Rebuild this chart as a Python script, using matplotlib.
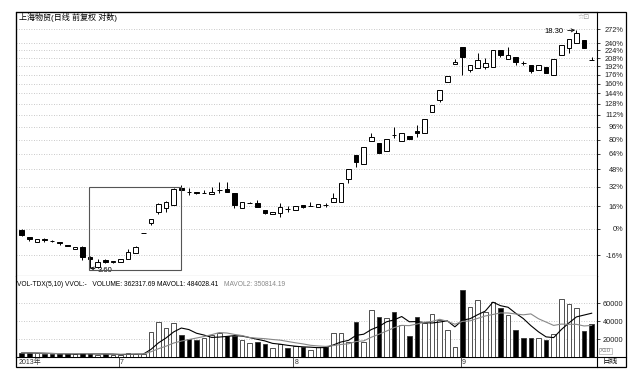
import matplotlib
matplotlib.use("Agg")
import matplotlib.pyplot as plt
import numpy as np
import pandas as pd
from matplotlib.patches import Rectangle
from matplotlib.lines import Line2D

plt.rcParams['font.family'] = ['Liberation Sans', 'Noto Sans CJK SC', 'DejaVu Sans']

# daily candles, 上海物贸, 2013-06 .. 2013-09 (front-adjusted prices)
opens = [4.62, 4.41, 4.27, 4.35, 4.30, 4.27, 4.19, 4.08, 4.13, 3.87,
         3.62, 3.79, 3.75, 3.75, 3.82, 3.97, 4.54, 4.84, 5.20, 5.34,
         5.45, 6.09, 5.95, 5.92, 5.89, 5.86, 6.01, 6.05, 5.90, 5.34,
         5.52, 5.52, 5.27, 5.14, 5.17, 5.31, 5.27, 5.46, 5.40, 5.38,
         5.45, 5.56, 5.56, 6.47, 7.57, 7.14, 8.30, 8.19, 7.77, 8.64,
         8.30, 8.58, 8.87, 8.75, 10.05, 10.87, 12.24, 13.78, 15.41, 13.25,
         13.42, 13.51, 13.51, 15.11, 14.24, 14.43, 13.87, 13.69, 13.25, 13.51,
         12.82, 14.62, 15.31, 15.82, 16.13, 14.14]
highs = [4.65, 4.42, 4.37, 4.39, 4.33, 4.27, 4.19, 4.13, 4.16, 3.90,
         3.82, 3.82, 3.77, 3.83, 4.08, 4.16, 4.54, 4.97, 5.52, 5.59,
         6.09, 6.22, 6.09, 5.92, 6.01, 6.13, 6.34, 6.34, 5.90, 5.56,
         5.54, 5.63, 5.27, 5.20, 5.52, 5.41, 5.41, 5.46, 5.56, 5.48,
         5.52, 5.90, 6.30, 6.90, 7.57, 7.98, 8.75, 8.19, 8.41, 9.10,
         8.75, 8.58, 9.22, 9.59, 10.52, 11.61, 12.73, 14.24, 15.41, 13.69,
         14.81, 14.33, 15.11, 15.11, 15.41, 14.43, 14.05, 13.69, 13.69, 13.51,
         14.24, 15.61, 16.24, 17.23, 16.13, 14.43]
lows = [4.44, 4.30, 4.26, 4.27, 4.27, 4.19, 4.15, 4.08, 3.79, 3.60,
        3.61, 3.72, 3.72, 3.74, 3.82, 3.97, 4.54, 4.78, 5.14, 5.20,
        5.45, 5.90, 5.82, 5.86, 5.89, 5.86, 5.90, 5.94, 5.34, 5.34,
        5.51, 5.38, 5.14, 5.12, 5.04, 5.20, 5.27, 5.34, 5.40, 5.38,
        5.38, 5.56, 5.56, 6.30, 7.00, 7.14, 8.30, 7.67, 7.77, 8.47,
        8.30, 8.41, 8.52, 8.75, 10.05, 10.73, 12.24, 13.78, 12.82, 13.07,
        13.42, 13.33, 13.51, 14.43, 14.24, 13.69, 13.69, 12.99, 13.25, 12.99,
        12.82, 14.62, 14.81, 15.82, 15.31, 14.13]
closes = [4.47, 4.36, 4.36, 4.32, 4.29, 4.23, 4.16, 4.13, 3.87, 3.81,
          3.75, 3.75, 3.76, 3.82, 4.00, 4.13, 4.54, 4.97, 5.48, 5.56,
          6.05, 6.03, 5.94, 5.90, 5.90, 5.94, 6.02, 5.94, 5.45, 5.56,
          5.53, 5.38, 5.17, 5.20, 5.38, 5.30, 5.41, 5.38, 5.41, 5.48,
          5.44, 5.71, 6.30, 6.90, 7.23, 7.98, 8.52, 7.67, 8.41, 8.63,
          8.75, 8.41, 8.75, 9.59, 10.52, 11.61, 12.73, 13.96, 14.43, 13.69,
          14.14, 13.87, 15.11, 14.62, 14.62, 13.96, 13.86, 13.16, 13.69, 12.99,
          14.24, 15.61, 16.24, 16.90, 15.31, 14.13]
volumes = [4500, 4500, 4000, 3500, 3200, 3000, 3200, 2800, 5000, 3500,
           2500, 2800, 2200, 2500, 4500, 3800, 3000, 28100, 39300, 31700,
           37400, 24400, 19600, 18900, 21500, 24400, 26300, 23300, 23300, 18900,
           15900, 16900, 14400, 9600, 14400, 9600, 12000, 10700, 7800, 11500,
           10600, 26300, 27000, 17000, 39300, 17000, 52200, 44000, 43000, 50000,
           35600, 23300, 44800, 37400, 47800, 41000, 29900, 11500, 74400, 55900,
           63300, 50000, 61000, 55000, 47000, 30000, 20700, 21500, 20700, 18900,
           26000, 65000, 58500, 54500, 29000, 36232]

base_price = 4.653          # price shown as 0%
pct_ticks = [-16, 0, 16, 32, 48, 64, 80, 96, 112, 128, 144, 160, 176, 192, 208, 224, 240, 272]
vol_ticks = [20000, 40000, 60000]
month_start = {13: '7', 36: '8', 58: '9'}
high_label = (73, '18.30')
low_label = (9, '3.60')
box_range = (8.86, 20.96, 3.56, 6.13)   # x0, x1 (bar index), low, high price

W, H = 640, 378
fig = plt.figure(figsize=(6.4, 3.78), dpi=100)


def box(x0, y0, x1, y1):
    return [x0 / W, 1 - y1 / H, (x1 - x0) / W, (y1 - y0) / H]


n = len(closes)
x = np.arange(n)
xlim = (-0.75, 75.7)
grid_kw = dict(color='#b8b8b8', lw=0.6, ls=(0, (1, 2)))

# ---- price panel
ax = fig.add_axes(box(16, 12, 597, 276))
ax.set_yscale('log')
ax.set_xlim(*xlim)
ax.set_ylim(3.415, 19.40)
for i in range(n):
    o, h, l, c = opens[i], highs[i], lows[i], closes[i]
    face = 'black' if c < o else 'white'
    ax.vlines(i, l, h, color='black', lw=0.7, zorder=2)
    ax.bar(i, abs(c - o), bottom=min(o, c), width=0.62, facecolor=face,
           edgecolor='black', lw=0.7, zorder=3)

ticks = [base_price * (1 + p / 100) for p in pct_ticks]
ax.yaxis.tick_right()
ax.set_yticks(ticks)
ax.set_yticklabels([f'{p}%' for p in pct_ticks])
ax.yaxis.set_minor_locator(matplotlib.ticker.NullLocator())
ax.tick_params(axis='y', length=2, width=0.6, pad=17, labelsize=5.3, colors='#222222')
for lbl in ax.get_yticklabels():
    lbl.set_ha('right')
ax.set_xticks([])
for t in ticks:
    ax.axhline(t, zorder=0, **grid_kw)
for s in ax.spines.values():
    s.set_linewidth(0.8)
ax.spines['bottom'].set_color('#777777')

bx0, bx1, bl, bh = box_range
ax.add_patch(Rectangle((bx0, bl), bx1 - bx0, bh - bl, fill=False,
                       edgecolor='#555555', lw=0.8, zorder=4))

hi_i, hi_txt = high_label
ax.annotate(hi_txt, xy=(hi_i, highs[hi_i]), xytext=(-23, -1), textcoords='offset points',
            ha='left', va='center', fontsize=5.5,
            arrowprops=dict(arrowstyle='->', lw=0.6, color='black', shrinkA=1, shrinkB=1))
lo_i, lo_txt = low_label
ax.annotate(lo_txt, xy=(lo_i, lows[lo_i]), xytext=(5.5, -1.5), textcoords='offset points',
            ha='left', va='center', fontsize=5.5,
            arrowprops=dict(arrowstyle='->', lw=0.6, color='black', shrinkA=0, shrinkB=0))

fig.text(19 / W, 1 - 18 / H, '上海物贸(日线 前复权 对数)', fontsize=5.8, va='center', ha='left')
fig.text(590 / W, 1 - 17 / H, '☆⊡', fontsize=5, va='center', ha='right',
         color='#999999', family=['DejaVu Sans'])

# ---- volume panel
axv = fig.add_axes(box(16, 276, 597, 357))
axv.set_xlim(*xlim)
axv.set_ylim(0, 90000)
vol_face = ['black' if closes[i] < opens[i] else 'white' for i in range(n)]
axv.bar(x, volumes, width=0.62, color=vol_face, edgecolor='#333333', lw=0.6, zorder=3)
vs = pd.Series(volumes, dtype=float)
axv.plot(x, vs.rolling(5, min_periods=1).mean(), color='black', lw=0.8, zorder=4)
axv.plot(x, vs.rolling(10, min_periods=1).mean(), color='#888888', lw=0.8, zorder=4)
axv.yaxis.tick_right()
axv.set_yticks(vol_ticks)
axv.set_yticklabels([str(v) for v in vol_ticks])
axv.tick_params(axis='y', length=2, width=0.6, pad=17, labelsize=5.3, colors='#222222')
for lbl in axv.get_yticklabels():
    lbl.set_ha('right')
axv.set_xticks([])
for v in vol_ticks:
    axv.axhline(v, zorder=0, **grid_kw)
for s in axv.spines.values():
    s.set_linewidth(0.8)
axv.spines['top'].set_visible(False)

fig.text(17 / W, 1 - 284 / H, 'VOL-TDX(5,10) VVOL:-   VOLUME: 362317.69 MAVOL1: 484028.41',
         fontsize=4.8, va='center', ha='left')
fig.text(224 / W, 1 - 284 / H, 'MAVOL2: 350814.19', fontsize=4.8, va='center', ha='left',
         color='#888888')
fig.text(600 / W, 1 - 351 / H, 'X10', fontsize=4.5, va='center', ha='left', color='#777777',
         bbox=dict(boxstyle='square,pad=0.1', fc='white', ec='#aaaaaa', lw=0.5))

# ---- date row
axd = fig.add_axes(box(16, 357, 597, 367))
axd.set_xlim(*xlim)
axd.set_ylim(0, 1)
axd.axis('off')
axd.text(-0.45, 0.45, '2013年', fontsize=5.0, va='center', ha='left', color='#333333')
for idx, lab in month_start.items():
    axd.axvline(idx - 0.25, color='#333333', lw=0.6)
    axd.text(idx - 0.05, 0.45, lab, fontsize=5.0, va='center', ha='left', color='#333333')

fig.text(610 / W, 1 - 362 / H, '日线', fontsize=5.5, va='center', ha='center')

# outer frame and right cells
fig.add_artist(Rectangle((16 / W, 1 - 367 / H), 610 / W, 355 / H, transform=fig.transFigure,
                         fill=False, edgecolor='black', lw=0.9))
fig.add_artist(Line2D([597 / W, 597 / W], [1 - 367 / H, 1 - 357 / H], transform=fig.transFigure,
                      color='black', lw=0.8))
fig.add_artist(Line2D([597 / W, 626 / W], [1 - 357 / H, 1 - 357 / H], transform=fig.transFigure,
                      color='black', lw=0.8))

fig.savefig('out.png', dpi=100)
